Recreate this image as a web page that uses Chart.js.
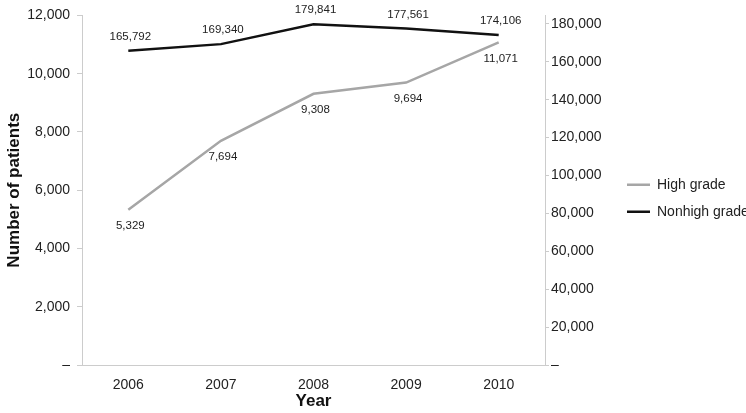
<!DOCTYPE html>
<html lang="en">
<head>
  <meta charset="UTF-8">
  <title>Number of patients by year</title>
  <script src="https://cdn.jsdelivr.net/npm/chart.js"></script>
  <style>
    body { margin: 0; background: #fff; }
    #wrap { width: 746px; height: 413px; position: relative; }
  </style>
</head>
<body>
  <div id="wrap"><canvas id="grafico"></canvas></div>

  <script>
    const anos = ['2006', '2007', '2008', '2009', '2010'];
    const highGrade = [5329, 7694, 9308, 9694, 11071];
    const nonhighGrade = [165792, 169340, 179841, 177561, 174106];
    const ticksEsquerda = [0, 2000, 4000, 6000, 8000, 10000, 12000];
    const ticksDireita = [0, 20000, 40000, 60000, 80000, 100000, 120000, 140000, 160000, 180000];

    const fonte = 'Arial, "Liberation Sans", sans-serif';
    const eixoCor = '#cccccc';

    function fmt(v) {
      return v === 0 ? '\u2013' : v.toLocaleString('en-US');
    }

    // rotulos de valor em cada ponto
    const rotulos = {
      id: 'rotulos',
      afterDatasetsDraw(chart) {
        const ctx = chart.ctx;
        ctx.save();
        ctx.font = '11.5px ' + fonte;
        ctx.fillStyle = '#222';
        ctx.textAlign = 'center';
        ctx.textBaseline = 'middle';
        chart.data.datasets.forEach((ds, i) => {
          const meta = chart.getDatasetMeta(i);
          meta.data.forEach((p, j) => {
            const dy = ds.yAxisID === 'y1' ? -14 : 16;
            ctx.fillText(fmt(ds.data[j]), p.x + 2, p.y + dy);
          });
        });
        ctx.restore();
      }
    };

    new Chart(document.getElementById('grafico'), {
      type: 'line',
      data: {
        labels: anos,
        datasets: [
          {
            label: 'High grade',
            data: highGrade,
            yAxisID: 'y',
            borderColor: '#a6a6a6',
            backgroundColor: '#a6a6a6',
            borderWidth: 2.5,
            pointRadius: 0,
            pointStyle: 'line',
            tension: 0
          },
          {
            label: 'Nonhigh grade',
            data: nonhighGrade,
            yAxisID: 'y1',
            borderColor: '#111111',
            backgroundColor: '#111111',
            borderWidth: 2.5,
            pointRadius: 0,
            pointStyle: 'line',
            tension: 0
          }
        ]
      },
      options: {
        responsive: true,
        maintainAspectRatio: false,
        animation: false,
        layout: { padding: { top: 10, left: 0, right: 0, bottom: 0 } },
        plugins: {
          tooltip: { enabled: false },
          legend: {
            position: 'right',
            fullSize: false,
            maxWidth: 132,
            title: { display: true, text: ' ', font: { size: 10, lineHeight: 1 }, padding: { top: 6, bottom: 0 } },
            labels: {
              usePointStyle: true,
              pointStyleWidth: 23,
              padding: 13,
              color: '#222',
              font: { family: fonte, size: 14 }
            }
          }
        },
        scales: {
          x: {
            type: 'category',
            offset: true,
            grid: { display: true, drawOnChartArea: false, drawTicks: false },
            border: { display: true, color: eixoCor, width: 1 },
            ticks: { padding: 12, color: '#222', font: { family: fonte, size: 14 } },
            title: {
              display: true,
              text: 'Year',
              color: '#111',
              font: { family: fonte, size: 17, weight: 'bold' },
              padding: { top: 0, bottom: 1 }
            },
            afterFit: s => { s.height = 48; }
          },
          y: {
            position: 'left',
            min: 0,
            max: 12000,
            grid: { drawOnChartArea: false, drawTicks: true, tickLength: 5, color: eixoCor },
            border: { display: true, color: eixoCor, width: 1 },
            ticks: {
              stepSize: 2000,
              padding: 7,
              color: '#222',
              font: { family: fonte, size: 14 },
              callback: v => fmt(v)
            },
            afterBuildTicks: s => { s.ticks = ticksEsquerda.map(v => ({ value: v })); },
            title: {
              display: true,
              text: 'Number of patients',
              color: '#111',
              font: { family: fonte, size: 17, weight: 'bold' }
            },
            afterFit: s => { s.width = 82; }
          },
          y1: {
            position: 'right',
            min: 0,
            max: 184500,
            grid: { drawOnChartArea: false, drawTicks: true, tickLength: 4, color: eixoCor },
            border: { display: true, color: eixoCor, width: 1 },
            ticks: {
              padding: 2,
              color: '#222',
              font: { family: fonte, size: 14 },
              callback: v => fmt(v)
            },
            afterBuildTicks: s => { s.ticks = ticksDireita.map(v => ({ value: v })); },
            afterFit: s => { s.width = 69; }
          }
        }
      },
      plugins: [rotulos]
    });
  </script>
</body>
</html>
